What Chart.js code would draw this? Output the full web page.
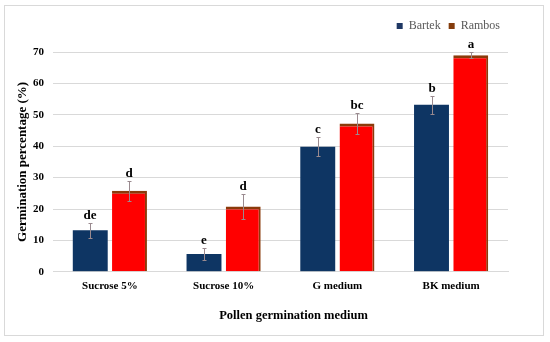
<!DOCTYPE html>
<html>
<head>
<meta charset="utf-8">
<script src="https://cdn.jsdelivr.net/npm/chart.js@4"></script>
<style>
html,body{margin:0;padding:0;background:#fff;}
#wrap{position:absolute;left:4px;top:5px;width:540px;height:331px;border:1px solid #d9d9d9;box-sizing:border-box;}
#c{position:absolute;left:0;top:0;}
</style>
</head>
<body>
<div id="wrap"></div>
<canvas id="c" width="550" height="342"></canvas>
<script>
const categories = ["Sucrose 5%", "Sucrose 10%", "G medium", "BK medium"];
const bartek = [13.2, 5.7, 39.8, 53.2];
const rambos = [25.8, 20.8, 47.2, 69.0];
const bartekErr = [2.3, 2.0, 3.0, 2.8];
const rambosErr = [3.2, 4.0, 3.4, 1.0];
const bartekLetters = ["de", "e", "c", "b"];
const rambosLetters = ["d", "d", "bc", "a"];
const xTitle = "Pollen germination medium";

const serif = "'Liberation Serif', 'Times New Roman', serif";

const annot = {
  id: 'annot',
  afterDatasetsDraw(chart) {
    const ctx = chart.ctx;
    const y = chart.scales.y;
    const sets = [[bartekErr, bartekLetters], [rambosErr, rambosLetters]];
    sets.forEach((s, di) => {
      const meta = chart.getDatasetMeta(di);
      const vals = chart.data.datasets[di].data;
      meta.data.forEach((bar, i) => {
        const x = Math.round(bar.x);
        const top = Math.round(y.getPixelForValue(vals[i] + s[0][i]));
        const bot = Math.round(y.getPixelForValue(vals[i] - s[0][i]));
        ctx.save();
        ctx.strokeStyle = '#9a8a8f';
        ctx.lineWidth = 1;
        ctx.beginPath();
        ctx.moveTo(x + 0.5, top); ctx.lineTo(x + 0.5, bot);
        ctx.moveTo(x - 1.5, top + 0.5); ctx.lineTo(x + 2.5, top + 0.5);
        ctx.moveTo(x - 1.5, bot + 0.5); ctx.lineTo(x + 2.5, bot + 0.5);
        ctx.stroke();
        ctx.fillStyle = '#000';
        ctx.font = "bold 13px " + serif;
        ctx.textAlign = 'center';
        ctx.textBaseline = 'bottom';
        ctx.fillText(s[1][i], x, top - 1);
        ctx.restore();
      });
    });
  },
  afterDraw(chart) {
    const ctx = chart.ctx;
    const a = chart.chartArea;
    ctx.save();
    ctx.fillStyle = '#000';
    ctx.font = "bold 12.5px " + serif;
    ctx.textAlign = 'center';
    ctx.textBaseline = 'middle';
    ctx.fillText(xTitle, (a.left + a.right) / 2 + 13, a.bottom + 44);
    ctx.restore();
  }
};

const legendMargin = {
  id: 'legendMargin',
  beforeInit(chart) {
    const orig = chart.legend.fit;
    chart.legend.fit = function () {
      orig.bind(chart.legend)();
      this.height += 10;
    };
  }
};

new Chart(document.getElementById('c'), {
  type: 'bar',
  data: {
    labels: categories,
    datasets: [
      {
        label: 'Bartek',
        data: bartek,
        backgroundColor: '#0E3563',
        borderWidth: 0,
        categoryPercentage: 0.69,
        barPercentage: 0.89
      },
      {
        label: 'Rambos',
        data: rambos,
        backgroundColor: '#FF0000',
        borderColor: '#8B3A0A',
        borderWidth: {top: 3, right: 2, left: 0, bottom: 0},
        borderSkipped: 'bottom',
        categoryPercentage: 0.69,
        barPercentage: 0.89
      }
    ]
  },
  options: {
    responsive: false,
    animation: false,
    devicePixelRatio: 1,
    layout: {padding: {left: 4, right: 42, top: 12, bottom: 41}},
    plugins: {
      tooltip: {enabled: false},
      legend: {
        position: 'top',
        align: 'end',
        labels: {
          boxWidth: 6, boxHeight: 6,
          color: '#595959',
          font: {family: serif, size: 12},
          padding: 8,
          generateLabels(chart) {
            return [
              {text: 'Bartek', fillStyle: '#1F3864', strokeStyle: '#1F3864', lineWidth: 0, datasetIndex: 0, fontColor: '#595959'},
              {text: 'Rambos', fillStyle: '#843C0C', strokeStyle: '#843C0C', lineWidth: 0, datasetIndex: 1, fontColor: '#595959'}
            ];
          }
        }
      }
    },
    scales: {
      x: {
        grid: {display: false, drawTicks: false},
        border: {display: true, color: '#d9d9d9'},
        ticks: {color: '#000', font: {family: serif, size: 11, weight: 'bold'}, padding: 8}
      },
      y: {
        min: 0, max: 70,
        afterFit(scale) { scale.width = 49; },
        ticks: {stepSize: 10, color: '#000', font: {family: serif, size: 11, weight: 'bold'}, padding: 9},
        grid: {color: '#d9d9d9', drawTicks: false},
        border: {display: false},
        title: {display: true, text: 'Germination percentage (%)', color: '#000', font: {family: serif, size: 13, weight: 'bold'}, padding: {top: 11, bottom: 0}}
      }
    }
  },
  plugins: [annot, legendMargin]
});
</script>
</body>
</html>
